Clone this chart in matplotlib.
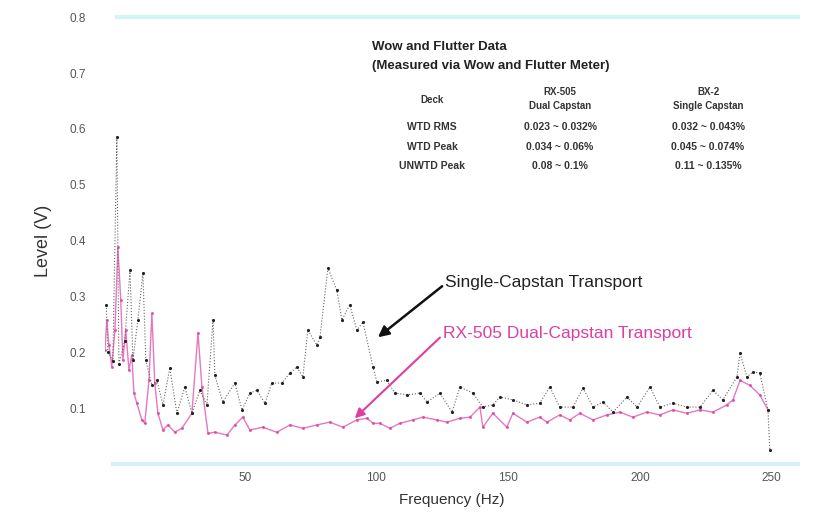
import matplotlib.pyplot as plt

plt.rcParams['font.family'] = ['Liberation Sans', 'DejaVu Sans']

# Single-capstan transport (black, dotted)
single_hz = [-2.5, -1.9, 0, 1.5, 2.3, 4.5, 6.5, 7.6, 9.5, 11.4, 12.5, 14.8, 16.7, 19, 21.6,
             24.3, 27.3, 30, 33, 35.7, 38, 38.7, 41.7, 46.3, 49, 52, 54.6, 57.7, 60.3, 64.1,
             67.2, 69.8, 72.1, 74, 77.4, 78.6, 81.6, 85, 86.9, 89.9, 92.6, 94.9, 98.7, 100.2,
             104, 107, 111.6, 116.5, 119.2, 124.1, 128.7, 131.7, 136.6, 140.4, 144.2, 146.9,
             151.8, 157.1, 162, 165.8, 169.6, 174.6, 178.4, 182.2, 186, 189.8, 195.1, 198.9,
             203.8, 207.6, 212.5, 217.8, 222.8, 227.7, 231.5, 236.8, 238, 240.6, 242.9, 245.5,
             248.6, 249.3]
single_v = [0.285, 0.20, 0.185, 0.585, 0.18, 0.22, 0.347, 0.186, 0.258, 0.342, 0.186, 0.141,
            0.15, 0.106, 0.172, 0.091, 0.138, 0.091, 0.132, 0.106, 0.258, 0.159, 0.111, 0.145,
            0.097, 0.127, 0.132, 0.109, 0.145, 0.145, 0.163, 0.174, 0.156, 0.24, 0.213, 0.227,
            0.351, 0.311, 0.258, 0.285, 0.24, 0.254, 0.174, 0.147, 0.15, 0.127, 0.124, 0.127,
            0.111, 0.127, 0.093, 0.138, 0.127, 0.102, 0.106, 0.12, 0.115, 0.106, 0.109, 0.138,
            0.102, 0.102, 0.136, 0.102, 0.111, 0.093, 0.12, 0.102, 0.138, 0.102, 0.109, 0.102,
            0.102, 0.132, 0.115, 0.156, 0.199, 0.156, 0.165, 0.163, 0.097, 0.025]

# RX-505 dual-capstan transport (magenta)
dual_hz = [-3, -2.3, -1.5, -0.4, 0.8, 1.9, 3, 3.8, 4.9, 6.1, 7.2, 8, 9.1, 11, 12.1, 13.7, 14.8,
           15.9, 17.1, 19, 20.9, 23.5, 26.2, 30, 32.3, 33.8, 36.1, 38.7, 43.3, 46.3, 49.3, 52,
           56.9, 62.2, 67.2, 72.1, 77.4, 82.3, 87.3, 92.6, 96.4, 98.7, 101.3, 105.1, 108.9,
           113.9, 117.6, 123, 126.8, 131.7, 135.5, 139.3, 140.4, 144.2, 149.5, 151.8, 157.1,
           162, 164.7, 169.6, 173.4, 177.2, 182.2, 187.5, 192.4, 197.3, 202.7, 207.6, 212.5,
           217.8, 222.8, 227.7, 233, 235.3, 238, 241.7, 245.5, 248.6]
dual_v = [0.204, 0.258, 0.213, 0.174, 0.24, 0.388, 0.294, 0.186, 0.24, 0.168, 0.195, 0.127,
          0.109, 0.079, 0.073, 0.15, 0.27, 0.145, 0.091, 0.061, 0.07, 0.057, 0.064, 0.091,
          0.235, 0.138, 0.055, 0.057, 0.052, 0.07, 0.084, 0.061, 0.066, 0.057, 0.07, 0.064,
          0.07, 0.075, 0.066, 0.079, 0.082, 0.073, 0.073, 0.064, 0.073, 0.079, 0.084, 0.079,
          0.075, 0.082, 0.084, 0.102, 0.066, 0.091, 0.066, 0.091, 0.075, 0.084, 0.075, 0.088,
          0.079, 0.091, 0.079, 0.088, 0.093, 0.084, 0.093, 0.088, 0.097, 0.091, 0.097, 0.093,
          0.106, 0.115, 0.15, 0.141, 0.124, 0.097]

x_ticks = [50, 100, 150, 200, 250]
y_ticks = [0.1, 0.2, 0.3, 0.4, 0.5, 0.6, 0.7, 0.8]

table_cols = ['Deck', 'RX-505\nDual Capstan', 'BX-2\nSingle Capstan']
table_rows = ['WTD RMS', 'WTD Peak', 'UNWTD Peak']
table_dual = ['0.023 ~ 0.032%', '0.034 ~ 0.06%', '0.08 ~ 0.1%']
table_single = ['0.032 ~ 0.043%', '0.045 ~ 0.074%', '0.11 ~ 0.135%']

magenta = '#dd3fa0'

fig = plt.figure(figsize=(8.33, 5.22), dpi=100)
ax = fig.add_axes([0.126, 0.111, 0.832, 0.856])

ax.plot(dual_hz, dual_v, color=magenta, lw=1.0, alpha=0.7,
        marker='.', markersize=2.5, zorder=2)
ax.plot(single_hz, single_v, color='#666666', lw=0.8, ls=':',
        marker='.', markersize=2.5, markerfacecolor='#222222',
        markeredgecolor='#222222', zorder=3)

ax.set_xlim(-3, 260)
ax.set_ylim(0, 0.8)
ax.set_xticks(x_ticks)
ax.set_yticks(y_ticks)
ax.set_yticklabels([f'{t:.1f}' for t in y_ticks])
ax.tick_params(length=0, labelsize=8.5, labelcolor='#555555')
ax.tick_params(axis='y', pad=14)
ax.tick_params(axis='x', pad=6)

for s in ['left', 'right']:
    ax.spines[s].set_visible(False)
for s in ['top', 'bottom']:
    ax.spines[s].set_color('#d4f6f2')
    ax.spines[s].set_linewidth(3)
ax.spines['top'].set_bounds(1.5, 260)
ax.spines['bottom'].set_bounds(0, 260)

ax.set_ylabel('Level (V)', fontsize=13, color='#333333', labelpad=12)
ax.set_xlabel('Frequency (Hz)', fontsize=11, color='#333333', labelpad=6)

ax.annotate('Single-Capstan Transport', xy=(100.6, 0.227), xytext=(126, 0.325),
            fontsize=12.5, color='#222222', va='center',
            arrowprops=dict(arrowstyle='-|>', color='#111111', lw=1.8,
                            mutation_scale=16, shrinkA=0, shrinkB=0,
                            relpos=(0, 0.4)))
ax.annotate('RX-505 Dual-Capstan Transport', xy=(91.8, 0.082), xytext=(125.2, 0.234),
            fontsize=12.5, color=magenta, va='center',
            arrowprops=dict(arrowstyle='-|>', color=magenta, lw=1.5,
                            mutation_scale=14, shrinkA=0, shrinkB=0,
                            relpos=(0, 0.4)))

# wow & flutter table
W, H = 833, 522
def ft(x, y, s, **kw):
    fig.text(x / W, 1 - y / H, s, **kw)

ft(372, 47, 'Wow and Flutter Data', fontsize=9.5, fontweight='bold',
   color='#222222', va='center')
ft(372, 66, '(Measured via Wow and Flutter Meter)', fontsize=9.5, fontweight='bold',
   color='#222222', va='center')
col_x = [432, 560, 708]
ft(col_x[0], 100, table_cols[0], fontsize=7, fontweight='bold', color='#333333',
   ha='center', va='center')
for cx, lab in zip(col_x[1:], table_cols[1:]):
    ft(cx, 99, lab, fontsize=7, fontweight='bold', color='#333333',
       ha='center', va='center', linespacing=1.4)
for i, (r, d, s) in enumerate(zip(table_rows, table_dual, table_single)):
    y = 127 + i * 19.5
    ft(col_x[0], y, r, fontsize=7.5, fontweight='bold', color='#333333', ha='center', va='center')
    ft(col_x[1], y, d, fontsize=7.5, fontweight='bold', color='#333333', ha='center', va='center')
    ft(col_x[2], y, s, fontsize=7.5, fontweight='bold', color='#333333', ha='center', va='center')

fig.savefig('out.png', dpi=100)
